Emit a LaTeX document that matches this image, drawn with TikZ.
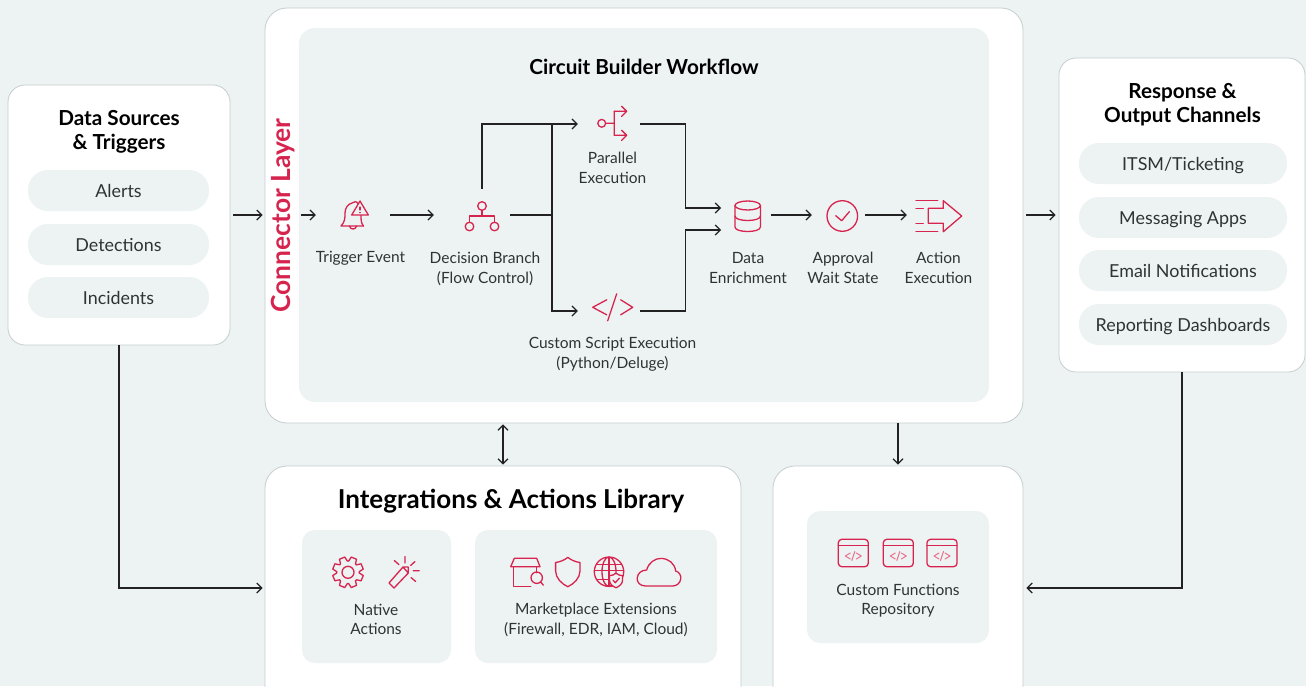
\documentclass[tikz,border=0pt]{standalone}
\usepackage{fontspec}
\setmainfont{Lato}
\usetikzlibrary{arrows.meta}
\definecolor{paneltint}{HTML}{EDF2F2}
\definecolor{edgegrey}{HTML}{C6CECE}
\definecolor{accentred}{HTML}{D7244F}
\definecolor{softred}{HTML}{E8738F}
\definecolor{inkline}{HTML}{222222}
\definecolor{inktext}{HTML}{2E3333}
\tikzset{
	card/.style={draw=edgegrey,line width=0.8pt,fill=white,rounded corners=17pt,inner sep=0pt},
	tray/.style={fill=paneltint,rounded corners=13pt,inner sep=0pt},
	pill/.style={fill=paneltint,rounded corners=20pt,inner sep=0pt,minimum height=41pt,text=inktext,
		font=\fontsize{17.9}{20}\selectfont,text height=14pt,text depth=1pt},
	cardtitle/.style={text=black,align=center,font=\fontsize{20.7}{24}\selectfont\bfseries},
	caption/.style={text=inktext,align=center,font=\fontsize{15.5}{19.7}\selectfont},
	anchorbox/.style={inner sep=0pt,minimum width=#1,minimum height=30pt},
	flow/.style={draw=inkline,line width=1.2pt,-{Straight Barb[length=5pt,width=10pt,line width=1.2pt]}},
	flowplain/.style={draw=inkline,line width=1.2pt},
	iconline/.style={draw=accentred,line width=1.3pt,line join=round,line cap=round},
	bellicon/.pic={
		\draw[iconline] (-12,11) -- (10.5,11) (-12,11) .. controls (-8,7) and (-8,3) .. (-8,-2)
			.. controls (-8,-7) and (-5,-11) .. (-1,-12) .. controls (1,-14) and (4,-14) .. (5,-11);
		\draw[iconline] (8,0) .. controls (8,5) and (8,8) .. (10.5,11);
		\draw[iconline] (-3.5,11) .. controls (-3,15) and (3,15) .. (3.5,11);
		\draw[iconline,fill=paneltint] (7,-14) -- (-1.3,0) -- (15.3,0) -- cycle;
		\draw[iconline] (7,-8) -- (7,-5) (7,-2.5) -- (7,-2.4);
	},
	branchicon/.pic={
		\draw[iconline] (0,-9) circle[radius=4.3] (-12.5,11.5) circle[radius=4.3] (12.5,11.5) circle[radius=4.3];
		\draw[iconline] (0,-4.7) -- (0,1) (-12.5,7.2) -- (-12.5,1) -- (12.5,1) -- (12.5,7.2);
	},
	forkicon/.pic={
		\draw[iconline] (0,0) circle[radius=3.9] (3.9,0) -- (12.5,0) (12.5,-12) -- (12.5,12);
		\draw[iconline] (12.5,-12) -- (25,-12) (20,-17) -- (25,-12) -- (20,-7);
		\draw[iconline] (12.5,12) -- (25,12) (20,7) -- (25,12) -- (20,17);
	},
	codeicon/.pic={
		\draw[iconline] (-6,-7.5) -- (-20,0) -- (-6,7.5) (4,-13.5) -- (-5,13.5) (8,-7.5) -- (20,0) -- (8,7.5);
	},
	dbicon/.pic={
		\draw[iconline] (0,-10.5) circle[x radius=12.7,y radius=4.5];
		\draw[iconline] (-12.7,-10.5) -- (-12.7,11) .. controls (-12.7,17) and (12.7,17) .. (12.7,11) -- (12.7,-10.5);
		\draw[iconline] (-12.7,0) .. controls (-12.7,6) and (12.7,6) .. (12.7,0);
	},
	checkicon/.pic={
		\draw[iconline] (0,0) circle[radius=15.3] (-6.6,-0.3) -- (-0.6,4.7) -- (7,-4.3);
	},
	launchicon/.pic={
		\draw[iconline] (-13,-7.7) -- (-13,7.3) -- (2,7.3) -- (2,15.7) -- (20.4,0) -- (2,-15.3) -- (2,-7.7) -- cycle;
		\draw[iconline] (-25.3,-15.3) -- (-3.6,-15.3) (-25.3,-7.7) -- (-18,-7.7) (-25.3,7.3) -- (-18,7.3) (-25.3,15.7) -- (-3.6,15.7);
	},
	gearicon/.pic={
		\draw[iconline] (0,0) circle[radius=6];
		\foreach \a in {0,45,...,315}
			\draw[iconline] (\a+3.5:11.3) -- (\a+12:15.6) -- (\a+33:15.6) -- (\a+41.5:11.3) -- (\a+48.5:11.3);
	},
	wandicon/.pic={
		\draw[iconline] (-15,12) -- (-10,17) -- (4.3,2) -- (4.3,-4) -- (-1,-4) -- cycle (-1,-4) -- (4.3,2);
		\draw[iconline] (1,-14.5) -- (1,-8) (-9.7,-10.5) -- (-5,-6.3) (11,-9.5) -- (6.7,-5.6) (9.3,-0.3) -- (15.3,-0.3) (7,6.5) -- (11.7,10.5);
	},
	storeicon/.pic={
		\draw[iconline] (-15,-6) -- (-11.4,-14.4) -- (11,-14.4) -- (14.3,-6) -- cycle;
		\draw[iconline] (-12.4,-6) -- (-12.4,14) -- (5,14) (11,-6) -- (11,0);
		\draw[iconline] (11,5) circle[radius=5.7] (15,9.2) -- (17.6,12.5);
	},
	shieldicon/.pic={
		\draw[iconline] (0,-14.7) .. controls (3,-12) and (8,-10) .. (12.2,-9.5) -- (12.2,-1)
			.. controls (12.2,6) and (6,12) .. (0,14.7) .. controls (-6,12) and (-12.2,6) .. (-12.2,-1) -- (-12.2,-9.5)
			.. controls (-8,-10) and (-3,-12) .. (0,-14.7) -- cycle;
	},
	globeicon/.pic={
		\draw[iconline] (0,0) circle[radius=14.7] (0,0) circle[x radius=7,y radius=14.7];
		\draw[iconline] (0,-14.7) -- (0,14.7) (-12.5,-7.5) -- (12.5,-7.5) (-14.7,-1) -- (14.7,-1) (-12.5,7.5) -- (5,7.5);
		\draw[iconline,fill=paneltint] (7,1.5) .. controls (9,3.2) and (11,3.8) .. (13.5,4) -- (13.5,9)
			.. controls (13.5,12) and (10,15) .. (7,16) .. controls (4,15) and (0.5,12) .. (0.5,9) -- (0.5,4)
			.. controls (3,3.8) and (5,3.2) .. (7,1.5) -- cycle;
		\draw[iconline] (4,8.5) -- (6.3,11) -- (10.3,6.5);
	},
	cloudicon/.pic={
		\draw[iconline] (-13.3,13.8) .. controls (-19.3,13.8) and (-22.3,9.8) .. (-21.8,5.8)
			.. controls (-21.3,0.8) and (-17.3,-2.2) .. (-12.3,-2.2)
			.. controls (-10.3,-10.2) and (-3.3,-13.8) .. (1.7,-13.8)
			.. controls (9.7,-13.8) and (15.7,-8.8) .. (16.7,-1.2)
			.. controls (20.7,-0.2) and (22.2,3.8) .. (21.7,6.8)
			.. controls (21.2,10.8) and (17.7,13.8) .. (13.7,13.8) -- cycle;
	},
	windowicon/.pic={
		\draw[iconline,rounded corners=3.5pt] (-15,-13.7) rectangle (15,13.7);
		\draw[iconline] (-15,-7.3) -- (15,-7.3);
		\draw[draw=softred,line width=1pt,line cap=round,line join=round] (-3,0) -- (-8,3) -- (-3,6) (1.5,-1.5) -- (-1.5,7.5) (3,0) -- (8,3) -- (3,6);
	}
}
\begin{document}
\begin{tikzpicture}[x=1pt,y=-1pt]
	\useasboundingbox (0,0) rectangle (1306,686);
	\clip (0,0) rectangle (1306,686);
	\fill[paneltint] (0,0) rectangle (1306,686);

	\node[card,minimum width=222pt,minimum height=260pt] (srcbox) at (119,215) {};
	\node[card,minimum width=758pt,minimum height=415pt,rounded corners=22pt] (corebox) at (644,215.5) {};
	\node[card,minimum width=246pt,minimum height=314pt] (outbox) at (1182,215) {};
	\node[card,minimum width=476pt,minimum height=244pt,rounded corners=22pt] (libbox) at (503,588) {};
	\node[card,minimum width=250pt,minimum height=244pt,rounded corners=22pt] (funcbox) at (898,588) {};

	\node[tray,minimum width=690pt,minimum height=374pt,rounded corners=16pt] (flowtray) at (644,215) {};
	\node[tray,minimum width=149pt,minimum height=133pt] (nativetray) at (376.5,596.5) {};
	\node[tray,minimum width=242pt,minimum height=133pt] (markettray) at (596,596.5) {};
	\node[tray,minimum width=182pt,minimum height=132pt] (repotray) at (898,577) {};

	\node[cardtitle] (srctitle) at (119,132) {Data Sources\\\& Triggers};
	\node[cardtitle] (flowtitle) at (644,67) {Circuit Builder Workflow};
	\node[cardtitle] (outtitle) at (1182.5,105) {Response \&\\Output Channels};
	\node[cardtitle,font=\fontsize{26}{30}\selectfont\bfseries] (libtitle) at (511,501) {Integrations \& Actions Library};

	\node[pill,minimum width=181pt] (alerts) at (118.5,190.5) {Alerts};
	\node[pill,minimum width=181pt] (detections) at (118.5,244.5) {Detections};
	\node[pill,minimum width=181pt] (incidents) at (118.5,297.5) {Incidents};
	\node[pill,minimum width=208pt] (itsm) at (1183,163.5) {ITSM/Ticketing};
	\node[pill,minimum width=208pt] (messaging) at (1183,217.5) {Messaging Apps};
	\node[pill,minimum width=208pt] (email) at (1183,270.5) {Email Notifications};
	\node[pill,minimum width=208pt] (reporting) at (1183,324.5) {Reporting Dashboards};

	\node[rotate=90,text=accentred,font=\fontsize{26.4}{28}\selectfont\bfseries] (connlayer) at (283.5,215.5) {Connector Layer};

	\node[anchorbox=74pt] (trigger) at (353,215) {};
	\node[anchorbox=96pt,minimum height=52pt] (branch) at (482,215) {};
	\node[anchorbox=62pt] (parallel) at (609,124) {};
	\node[anchorbox=62pt] (script) at (609,311) {};
	\node[anchorbox=50pt] (enrich) at (746,215) {};
	\node[anchorbox=53pt] (approval) at (838.5,215) {};
	\node[anchorbox=54pt] (action) at (934,215) {};

	\pic at (353,215) {bellicon};
	\pic at (482,215) {branchicon};
	\pic at (601.7,123.3) {forkicon};
	\pic at (612.7,307.3) {codeicon};
	\pic at (747.7,216) {dbicon};
	\pic at (842.3,216) {checkicon};
	\pic at (941.3,216) {launchicon};
	\pic at (348,572.3) {gearicon};
	\pic at (404,571) {wandicon};
	\pic at (525.7,572.7) {storeicon};
	\pic at (567.8,572) {shieldicon};
	\pic at (609,571.7) {globeicon};
	\pic at (659,572.2) {cloudicon};
	\pic at (853.3,553) {windowicon};
	\pic at (898.3,553) {windowicon};
	\pic at (942,553) {windowicon};

	\node[caption] (triggertext) at (360.5,258.5) {Trigger Event};
	\node[caption] (branchtext) at (485,269) {Decision Branch\\(Flow Control)};
	\node[caption] (paralleltext) at (612.5,168) {Parallel\\Execution};
	\node[caption] (scripttext) at (612.5,354.5) {Custom Script Execution\\(Python/Deluge)};
	\node[caption] (enrichtext) at (748,268) {Data\\Enrichment};
	\node[caption] (approvaltext) at (843,268) {Approval\\Wait State};
	\node[caption] (actiontext) at (938.5,268) {Action\\Execution};
	\node[caption] (nativetext) at (376,619.5) {Native\\Actions};
	\node[caption] (markettext) at (596,620) {Marketplace Extensions\\(Firewall, EDR, IAM, Cloud)};
	\node[caption] (repotext) at (898,600.5) {Custom Functions\\Repository};

	\coordinate (branchout) at (510,215);
	\coordinate (splitpoint) at (552,215);
	\coordinate (branchup) at (482,124);
	\coordinate (mergeupper) at (721,208);
	\coordinate (mergelower) at (721,230);

	\draw[flow,shorten <=3pt,shorten >=2pt] (srcbox.east) -- (srcbox.east -| corebox.west);
	\draw[flow,shorten <=2pt] (connlayer.south |- trigger.west) -- (trigger.west);
	\draw[flow] (trigger.east) -- (branch.west);
	\draw[flow] (branch.north) -- (branchup) -- (parallel.west);
	\draw[flowplain] (branchout) -- (splitpoint);
	\draw[flowplain] (splitpoint) -- (splitpoint |- parallel.west);
	\draw[flow] (splitpoint) |- (script.west);
	\draw[flow] (parallel.east) -- ++(45.5,0) |- (mergeupper);
	\draw[flow] (script.east) -- ++(45.5,0) |- (mergelower);
	\draw[flow] (enrich.east) -- (approval.west);
	\draw[flow] (approval.east) -- (action.west);
	\draw[flow,shorten <=3pt,shorten >=3pt] (outbox.west -| corebox.east) -- (outbox.west);
	\draw[flow,shorten >=2pt] (srcbox.south) |- (libbox.west);
	\draw[flow,shorten >=3pt] (outbox.south) |- (funcbox.east);
	\draw[flow,{Straight Barb[length=5pt,width=10pt,line width=1.2pt]}-{Straight Barb[length=5pt,width=10pt,line width=1.2pt]},shorten <=1pt,shorten >=1pt] (corebox.south -| libbox.north) -- (libbox.north);
	\draw[flow,shorten >=1pt] (corebox.south -| funcbox.north) -- (funcbox.north);
\end{tikzpicture}
\end{document}
